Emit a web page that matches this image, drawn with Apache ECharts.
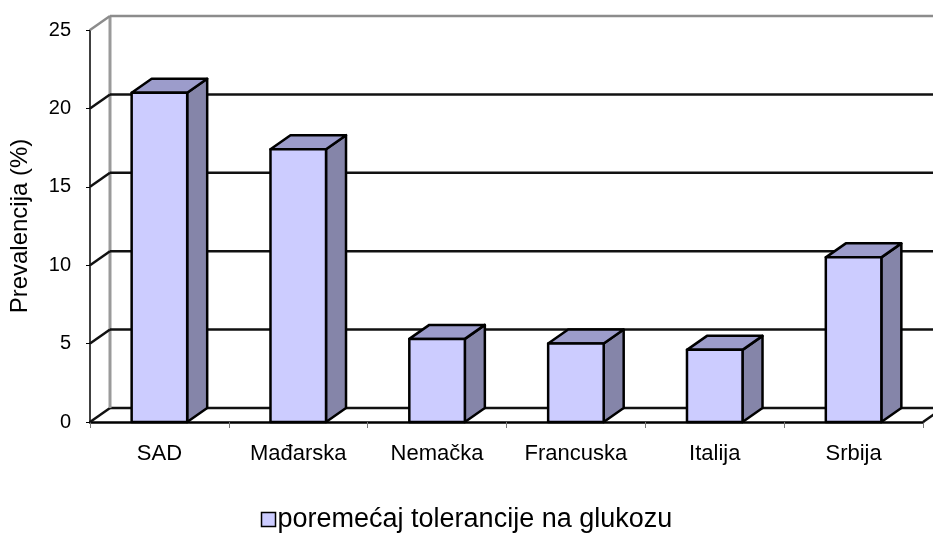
<!DOCTYPE html>
<html>
<head>
<meta charset="utf-8">
<script src="https://cdn.jsdelivr.net/npm/echarts@6/dist/echarts.min.js"></script>
<style>
  html, body { margin: 0; padding: 0; background: #fff; }
  #chart { width: 933px; height: 536px; }
</style>
</head>
<body>
<div id="chart"></div>
<script>
// Prevalence of impaired glucose tolerance by country
const categories = ['SAD', 'Mađarska', 'Nemačka', 'Francuska', 'Italija', 'Srbija'];
const prevalence = [21.0, 17.4, 5.3, 5.0, 4.6, 10.5];
const yTicks = [0, 5, 10, 15, 20, 25];
const seriesName = 'poremećaj tolerancije na glukozu';

// depth of the pseudo-3D walls and bars (pixels)
const DX = 20, DY = -14;
const FONT = '"Liberation Sans", Arial, sans-serif';

const chart = echarts.init(document.getElementById('chart'), null, { renderer: 'canvas' });

// back wall, side wall and floor lines, one item per y tick
function renderWall(params, api) {
  const cs = params.coordSys;
  const v = api.value(1);
  const y = api.coord([0, v])[1];
  const left = cs.x, right = cs.x + cs.width;
  const dark = { stroke: '#111', lineWidth: 2.5 };
  const grey = { stroke: '#8c8c8c', lineWidth: 2.5 };
  const children = [];
  const isTop = v === yTicks[yTicks.length - 1];
  // horizontal line on the back wall
  children.push({
    type: 'line',
    shape: { x1: left + DX, y1: y + DY, x2: right + DX, y2: y + DY },
    style: isTop ? grey : dark
  });
  // diagonal on the left wall
  children.push({
    type: 'line',
    shape: { x1: left, y1: y, x2: left + DX, y2: y + DY },
    style: isTop ? grey : dark
  });
  if (v === 0) {
    // right floor edge and vertical edge of the back wall
    children.push({
      type: 'line',
      shape: { x1: right, y1: y, x2: right + DX, y2: y + DY },
      style: dark
    });
    const yTop = api.coord([0, yTicks[yTicks.length - 1]])[1];
    children.push({
      type: 'line',
      shape: { x1: left + DX, y1: y + DY, x2: left + DX, y2: yTop + DY },
      style: { stroke: '#9a9a9a', lineWidth: 3 }
    });
  }
  return { type: 'group', children };
}

// 3D-looking bar: front face, side face, top face
function renderBar(params, api) {
  const i = api.value(0);
  const v = api.value(1);
  const top = api.coord([i, v]);
  const base = api.coord([i, 0]);
  const band = api.size([1, 0])[0];
  const w = band * 0.4;
  const x0 = top[0] - w / 2, x1 = top[0] + w / 2;
  const yT = top[1], yB = base[1];
  const edge = { stroke: '#000', lineWidth: 2.5, lineJoin: 'round' };
  return {
    type: 'group',
    children: [
      {
        type: 'polygon',
        shape: { points: [[x1, yB], [x1, yT], [x1 + DX, yT + DY], [x1 + DX, yB + DY]] },
        style: Object.assign({ fill: '#8585A9' }, edge)
      },
      {
        type: 'polygon',
        shape: { points: [[x0, yT], [x1, yT], [x1 + DX, yT + DY], [x0 + DX, yT + DY]] },
        style: Object.assign({ fill: '#9C9CCB' }, edge)
      },
      {
        type: 'rect',
        shape: { x: x0, y: yT, width: w, height: yB - yT },
        style: Object.assign({ fill: '#CCCCFF' }, edge)
      }
    ]
  };
}

const option = {
  backgroundColor: '#ffffff',
  animation: false,
  grid: { left: 90, right: 10, top: 30, bottom: 114 },
  legend: {
    bottom: -2,
    left: 'center',
    itemWidth: 14,
    itemHeight: 14,
    itemGap: 10,
    textStyle: { fontFamily: FONT, fontSize: 27, color: '#000', padding: [0, 0, 0, -3] },
    data: [{
      name: seriesName,
      icon: 'rect',
      itemStyle: { color: '#CCCCFF', borderColor: '#000', borderWidth: 1.5 }
    }]
  },
  xAxis: {
    type: 'category',
    data: categories,
    boundaryGap: true,
    axisLine: { show: true, lineStyle: { color: '#000', width: 2.5 } },
    axisTick: { show: true, length: 6, lineStyle: { color: '#777', width: 1 } },
    axisLabel: { fontFamily: FONT, fontSize: 22, color: '#000', margin: 21 },
    splitLine: { show: false }
  },
  yAxis: {
    type: 'value',
    min: 0,
    max: 25,
    interval: 5,
    name: 'Prevalencija (%)',
    nameLocation: 'middle',
    nameRotate: 90,
    nameGap: 58,
    nameTextStyle: { fontFamily: FONT, fontSize: 24, color: '#000' },
    axisLine: { show: true, lineStyle: { color: '#000', width: 1.5 } },
    axisTick: { show: true, length: 4, lineStyle: { color: '#000', width: 1 } },
    axisLabel: { fontFamily: FONT, fontSize: 20, color: '#000', margin: 19 },
    splitLine: { show: false }
  },
  series: [
    {
      type: 'custom',
      name: 'wall',
      silent: true,
      z: 1,
      clip: false,
      renderItem: renderWall,
      data: yTicks.map(v => [0, v])
    },
    {
      type: 'custom',
      name: seriesName,
      z: 5,
      clip: false,
      itemStyle: { color: '#CCCCFF', borderColor: '#000', borderWidth: 1.5 },
      renderItem: renderBar,
      data: prevalence.map((v, i) => [i, v])
    }
  ]
};

chart.setOption(option);
</script>
</body>
</html>
